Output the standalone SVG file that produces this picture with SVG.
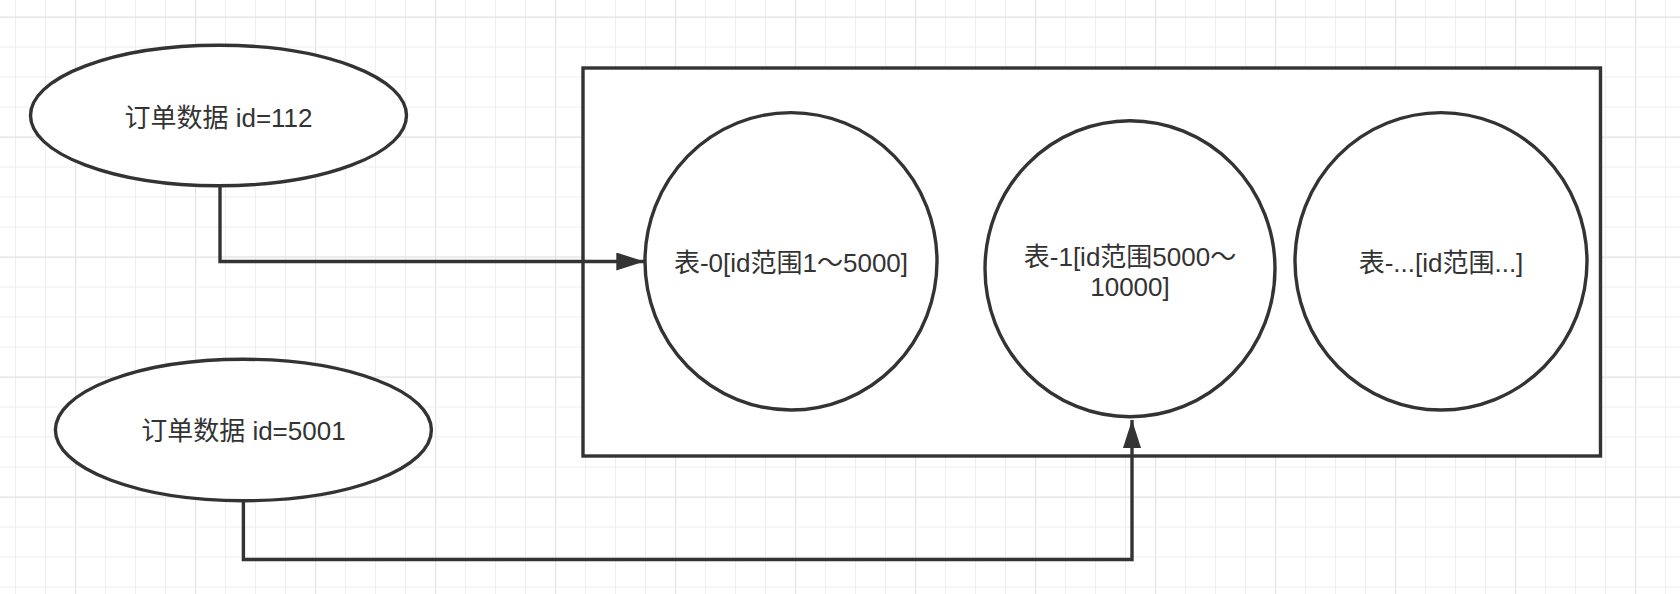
<svg xmlns="http://www.w3.org/2000/svg" width="1680" height="594" viewBox="0 0 1680 594">
  <defs>
    <pattern id="minor" x="15" y="16.5" width="30" height="30" patternUnits="userSpaceOnUse">
      <path d="M0.5 0V30M0 0.5H30" fill="none" stroke="#efefef" stroke-width="1.2"/>
    </pattern>
    <pattern id="major" x="75" y="16.5" width="120" height="120" patternUnits="userSpaceOnUse">
      <path d="M0.5 0V120M0 0.5H120" fill="none" stroke="#e4e4e4" stroke-width="1.4"/>
    </pattern>
    <marker id="arrow" markerUnits="userSpaceOnUse" markerWidth="30" markerHeight="20" refX="28" refY="9" orient="auto">
      <path d="M0 0L28 9L0 18Z" fill="#333333"/>
    </marker>
  </defs>
  <style>
    .shape { fill: #ffffff; stroke: #333333; stroke-width: 3.4; }
    .edge { fill: none; stroke: #333333; stroke-width: 3.4; }
    .label { font-family: "Liberation Sans", "Noto Sans CJK SC", sans-serif; font-size: 26px; fill: #333333; text-anchor: middle; }
  </style>
  <rect width="1680" height="594" fill="#ffffff"/>
  <rect width="1680" height="594" fill="url(#minor)"/>
  <rect width="1680" height="594" fill="url(#major)"/>

  <g id="container">
    <rect class="shape" x="583" y="68" width="1017.5" height="388"/>
  </g>

  <g id="order-112">
    <ellipse class="shape" cx="218.5" cy="115.5" rx="188" ry="70.3"/>
    <text class="label" x="218.5" y="126.5">订单数据 id=112</text>
  </g>

  <g id="order-5001">
    <ellipse class="shape" cx="243.4" cy="430" rx="188" ry="70.7"/>
    <text class="label" x="243.4" y="440">订单数据 id=5001</text>
  </g>

  <g id="table-0">
    <ellipse class="shape" cx="791" cy="261.3" rx="146" ry="148.7"/>
    <text class="label" x="791" y="271.5">表-0[id范围1～5000]</text>
  </g>

  <g id="table-1">
    <ellipse class="shape" cx="1130" cy="268.8" rx="145" ry="148"/>
    <text class="label" x="1130" y="265.5">表-1[id范围5000～</text>
    <text class="label" x="1130" y="295.5">10000]</text>
  </g>

  <g id="table-n">
    <ellipse class="shape" cx="1441" cy="261.3" rx="146" ry="148.7"/>
    <text class="label" x="1441" y="271.5">表-...[id范围...]</text>
  </g>

  <g id="connectors">
    <path class="edge" d="M220 185.7V261.5H644.3" marker-end="url(#arrow)"/>
    <path class="edge" d="M243.4 500.7V559.5H1132V420" marker-end="url(#arrow)"/>
  </g>
</svg>
